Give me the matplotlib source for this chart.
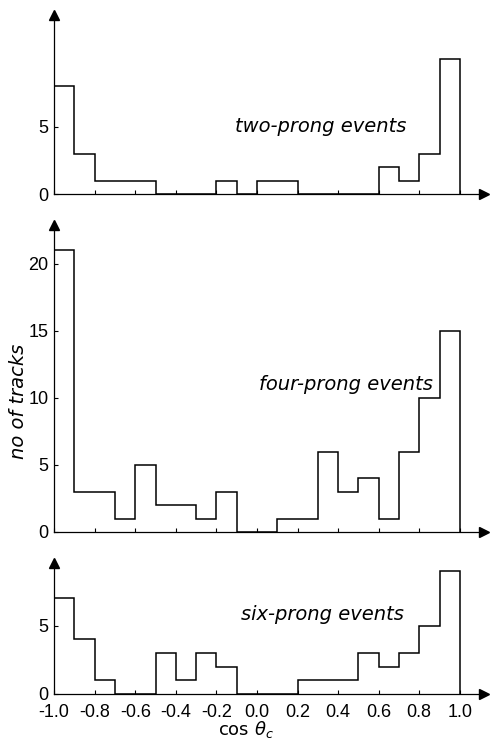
import matplotlib.pyplot as plt
import numpy as np

# bin edges in cos(theta_c), 20 bins of width 0.1
edges = np.round(np.linspace(-1.0, 1.0, 21), 2)

two_prong = [8, 3, 1, 1, 1, 0, 0, 0, 1, 0, 1, 1, 0, 0, 0, 0, 2, 1, 3, 10]
four_prong = [21, 3, 3, 1, 5, 2, 2, 1, 3, 0, 0, 1, 1, 6, 3, 4, 1, 6, 10, 15]
six_prong = [7, 4, 1, 0, 0, 3, 1, 3, 2, 0, 0, 0, 1, 1, 1, 3, 2, 3, 5, 9]

xticks = [-1.0, -0.8, -0.6, -0.4, -0.2, 0.0, 0.2, 0.4, 0.6, 0.8, 1.0]
xticklabels = ['-1.0', '-0.8', '-0.6', '-0.4', '-0.2', '0.0', '0.2', '0.4', '0.6', '0.8', '1.0']

tick_font = ['Liberation Sans Narrow', 'Liberation Sans', 'DejaVu Sans']
plt.rcParams['font.family'] = 'DejaVu Sans'

fig = plt.figure(figsize=(4.92, 7.4), dpi=100)

# axes boxes (figure fraction): left, bottom, width, height
left, width = 0.110, 0.874
ax_top = fig.add_axes([left, 0.7378, width, 0.2419])
ax_mid = fig.add_axes([left, 0.2811, width, 0.4149])
ax_bot = fig.add_axes([left, 0.0622, width, 0.1770])

panels = [
    (ax_top, two_prong, 13.3, [0, 5], 'two-prong events', (-0.11, 5.0)),
    (ax_mid, four_prong, 22.9, [0, 5, 10, 15, 20], 'four-prong events', (0.01, 11.0)),
    (ax_bot, six_prong, 9.6, [0, 5], 'six-prong events', (-0.08, 5.8)),
]

for ax, counts, ymax, yt, label, pos in panels:
    ax.stairs(counts, edges, color='black', lw=1.1, baseline=0)
    ax.set_xlim(-1.0, 1.12)
    ax.set_ylim(0, ymax)
    ax.spines['top'].set_visible(False)
    ax.spines['right'].set_visible(False)
    ax.spines['left'].set_linewidth(0.9)
    ax.spines['bottom'].set_linewidth(0.9)
    ax.plot(1, 0, '>k', ms=7, transform=ax.transAxes, clip_on=False)
    ax.plot(0, 1, '^k', ms=7, transform=ax.transAxes, clip_on=False)
    ax.set_yticks(yt)
    ax.set_xticks(xticks)
    ax.tick_params(direction='in', length=3, width=0.8, pad=4)
    ax.tick_params(axis='x', pad=7)
    for t in ax.get_yticklabels():
        t.set_fontfamily(tick_font)
        t.set_fontsize(13)
    ax.text(pos[0], pos[1], label, style='italic', fontsize=14, va='center', ha='left')
    if ax is not ax_bot:
        ax.set_xticklabels([])
    else:
        ax.set_xticklabels(xticklabels, fontfamily=tick_font, fontsize=13)
    ax.patch.set_alpha(0)

fig.text(0.038, 0.458, 'no of tracks', rotation=90, style='italic', fontsize=14,
         ha='center', va='center')
fig.text(0.50, 0.014, r'cos $\theta_c$', fontsize=13, ha='center', va='center')

fig.savefig('out.png', dpi=100)
